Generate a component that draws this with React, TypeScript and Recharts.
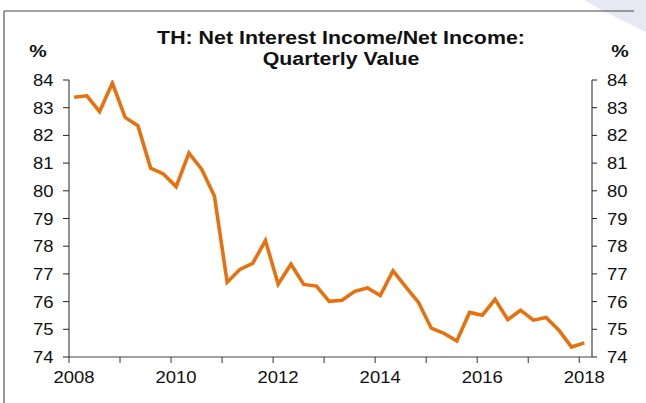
import React from 'react';
import { LineChart, Line, XAxis, YAxis } from 'recharts';

const quarters = [
  '2008Q1','2008Q2','2008Q3','2008Q4',
  '2009Q1','2009Q2','2009Q3','2009Q4',
  '2010Q1','2010Q2','2010Q3','2010Q4',
  '2011Q1','2011Q2','2011Q3','2011Q4',
  '2012Q1','2012Q2','2012Q3','2012Q4',
  '2013Q1','2013Q2','2013Q3','2013Q4',
  '2014Q1','2014Q2','2014Q3','2014Q4',
  '2015Q1','2015Q2','2015Q3','2015Q4',
  '2016Q1','2016Q2','2016Q3','2016Q4',
  '2017Q1','2017Q2','2017Q3','2017Q4',
  '2018Q1',
];

const niiShare = [
  83.38, 83.43, 82.86, 83.89, 82.65, 82.35, 80.82, 80.61, 80.15, 81.36,
  80.78, 79.81, 76.70, 77.16, 77.38, 78.20, 76.63, 77.35, 76.62, 76.56,
  76.01, 76.05, 76.37, 76.49, 76.22, 77.11, 76.53, 75.97, 75.04, 74.85,
  74.58, 75.61, 75.51, 76.08, 75.35, 75.69, 75.33, 75.43, 74.97, 74.36,
  74.51,
];

const yearTicks = [2008, 2009, 2010, 2011, 2012, 2013, 2014, 2015, 2016, 2017, 2018];
const yearLabels = ['2008', '', '2010', '', '2012', '', '2014', '', '2016', '', '2018'];
const valueTicks = [74, 75, 76, 77, 78, 79, 80, 81, 82, 83, 84];

const titleLines = ['TH: Net Interest Income/Net Income:', 'Quarterly Value'];
const unitLabel = '%';

const data = quarters.map((q, i) => {
  const year = parseInt(q.slice(0, 4), 10);
  const qi = parseInt(q.slice(5), 10);
  return { quarter: q, t: year + (qi - 1) * 0.25 + 0.1, v: niiShare[i] };
});

const FONT = '"Liberation Sans", Arial, Helvetica, sans-serif';
const SX = 1.155;

const XTick = (props: any) => {
  const { x, y, payload } = props;
  const idx = yearTicks.indexOf(payload.value);
  const label = idx >= 0 ? yearLabels[idx] : '';
  return (
    <g transform={`translate(${x + 5},${y + 20})`}>
      <text transform={`scale(${SX},1)`} textAnchor="middle" fontSize={16} fill="#111" fontFamily={FONT}>
        {label}
      </text>
    </g>
  );
};

const LeftTick = (props: any) => {
  const { x, y, payload } = props;
  return (
    <g transform={`translate(${x},${y + 6})`}>
      <text transform={`scale(${SX},1)`} textAnchor="end" fontSize={16} fill="#111" fontFamily={FONT}>
        {payload.value}
      </text>
    </g>
  );
};

const RightTick = (props: any) => {
  const { x, y, payload } = props;
  return (
    <g transform={`translate(${x},${y + 6})`}>
      <text transform={`scale(${SX},1)`} textAnchor="start" fontSize={16} fill="#111" fontFamily={FONT}>
        {payload.value}
      </text>
    </g>
  );
};

export default function App() {
  return (
    <div style={{ position: 'absolute', left: 0, top: 0, width: 646, height: 403, background: '#fff', overflow: 'hidden' }}>
      <svg width={646} height={403} style={{ position: 'absolute', left: 0, top: 0 }}>
        <polygon points="584,0 646,0 646,32 603,11" fill="#e8e8f3" />
        <line x1={4} y1={11} x2={634} y2={11} stroke="#444" strokeWidth={1.2} />
        <line x1={4} y1={11} x2={4} y2={403} stroke="#777" strokeWidth={1.5} />
        <g transform={`translate(341,44.3)`}>
          <text transform={`scale(${SX},1)`} textAnchor="middle" fontSize={18.5} fontWeight="bold" fill="#111" fontFamily={FONT}>
            {titleLines[0]}
          </text>
        </g>
        <g transform={`translate(341,65)`}>
          <text transform={`scale(${SX},1)`} textAnchor="middle" fontSize={18.5} fontWeight="bold" fill="#111" fontFamily={FONT}>
            {titleLines[1]}
          </text>
        </g>
        <g transform={`translate(38,57)`}>
          <text transform={`scale(${SX},1)`} textAnchor="middle" fontSize={17} fontWeight="bold" fill="#111" fontFamily={FONT}>
            {unitLabel}
          </text>
        </g>
        <g transform={`translate(620,57)`}>
          <text transform={`scale(${SX},1)`} textAnchor="middle" fontSize={17} fontWeight="bold" fill="#111" fontFamily={FONT}>
            {unitLabel}
          </text>
        </g>
      </svg>
      <div style={{ position: 'absolute', left: 0, top: 0 }}>
        <LineChart width={646} height={403} data={data} margin={{ top: 80, right: 0, bottom: 0, left: 0 }}>
          <XAxis
            dataKey="t"
            type="number"
            domain={[2008, 2018.25]}
            ticks={yearTicks}
            interval={0}
            allowDataOverflow
            height={46}
            tickSize={6}
            tickMargin={0}
            tick={<XTick />}
            axisLine={{ stroke: '#808080', strokeWidth: 1.5 }}
            tickLine={{ stroke: '#333' }}
          />
          <YAxis
            yAxisId="left"
            orientation="left"
            type="number"
            domain={[74, 84]}
            ticks={valueTicks}
            interval={0}
            allowDataOverflow
            width={69}
            tickSize={6}
            tickMargin={9.5}
            tick={<LeftTick />}
            axisLine={{ stroke: '#222' }}
            tickLine={{ stroke: '#222' }}
          />
          <YAxis
            yAxisId="right"
            orientation="right"
            type="number"
            domain={[74, 84]}
            ticks={valueTicks}
            interval={0}
            allowDataOverflow
            width={54}
            tickSize={5}
            tickMargin={10}
            tick={<RightTick />}
            axisLine={{ stroke: '#222' }}
            tickLine={{ stroke: '#222' }}
          />
          <Line
            yAxisId="right"
            type="linear"
            dataKey="v"
            stroke="none"
            strokeWidth={0}
            dot={false}
            activeDot={false}
            legendType="none"
            isAnimationActive={false}
          />
          <Line
            yAxisId="left"
            type="linear"
            dataKey="v"
            stroke="#E8710F"
            strokeWidth={3.6}
            dot={false}
            strokeLinejoin="miter"
            isAnimationActive={false}
          />
        </LineChart>
      </div>
    </div>
  );
}
